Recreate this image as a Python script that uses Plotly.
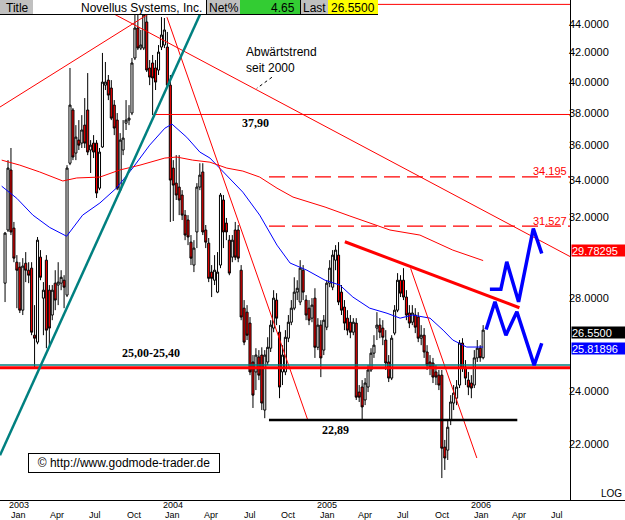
import plotly.graph_objects as go
import pandas as pd
import math

# ---------------- data (weekly candles) ----------------
first_week = "2002-11-29"
opens = [28.69, 31.32, 34.58, 31.42, 29.70, 29.46, 27.44, 29.65, 29.31, 29.41,
         26.33, 26.03, 29.95, 27.99, 29.80, 28.36, 27.22, 28.69, 28.60, 28.69,
         28.83, 28.13, 34.97, 38.18, 35.56, 36.33, 36.15, 37.24, 38.18, 35.74,
         36.15, 36.15, 33.56, 35.92, 39.78, 40.11, 39.59, 38.49, 37.55, 33.45,
         35.74, 37.36, 37.55, 37.99, 41.60, 43.71, 42.29, 42.29, 44.15, 40.92,
         41.26, 40.92, 40.78, 42.36, 42.50, 42.36, 39.78, 34.69, 33.84, 33.62,
         33.18, 32.10, 31.84, 30.70, 29.56, 31.22, 33.62, 34.47, 31.32, 30.65,
         29.22, 28.83, 28.27, 29.56, 32.91, 31.68, 30.80, 29.95, 31.32, 31.32,
         29.31, 27.53, 27.35, 26.86, 25.19, 24.78, 25.40, 25.48, 23.27, 25.19,
         25.77, 26.64, 27.90, 26.46, 24.78, 24.78, 26.20, 26.90, 27.53, 28.27,
         27.81, 29.31, 27.90, 27.53, 27.08, 27.99, 25.81, 26.77, 25.69, 26.68,
         28.69, 28.50, 29.80, 30.05, 28.27, 27.58, 27.08, 26.90, 26.46, 26.86,
         23.97, 24.17, 23.66, 24.17, 24.86, 25.56, 26.64, 26.77, 26.64, 26.12,
         25.19, 24.53, 26.42, 27.44, 28.83, 28.83, 28.04, 27.31, 26.90, 27.22,
         27.13, 26.20, 26.33, 25.61, 25.19, 25.15, 24.78, 24.65, 24.65, 21.89,
         21.78, 22.89, 23.54, 23.73, 24.25, 25.99, 24.98, 24.45, 24.33, 24.25,
         25.36, 25.77, 25.37]
highs = [31.22, 35.15, 35.86, 31.74, 30.05, 29.70, 29.90, 30.20, 29.70, 29.70,
         27.67, 30.96, 30.30, 28.74, 30.05, 28.60, 28.60, 29.31, 29.70, 29.31,
         29.07, 34.86, 40.92, 38.30, 37.24, 37.55, 37.86, 38.94, 40.58, 36.33,
         36.63, 36.33, 35.86, 41.95, 41.33, 40.45, 40.11, 38.81, 37.99, 36.75,
         37.55, 38.81, 38.49, 41.60, 44.66, 44.66, 43.57, 45.03, 44.66, 41.46,
         41.81, 41.46, 42.50, 44.51, 44.44, 43.43, 40.45, 35.15, 35.44, 35.44,
         33.45, 32.37, 32.10, 31.06, 30.80, 33.84, 34.97, 34.97, 31.58, 30.91,
         29.56, 30.05, 30.20, 33.29, 33.18, 31.95, 31.06, 31.06, 31.74, 31.58,
         29.56, 27.90, 27.67, 27.13, 25.48, 25.77, 25.69, 25.81, 25.69, 26.24,
         26.99, 28.36, 28.22, 26.77, 25.90, 26.55, 27.22, 27.90, 28.97, 28.83,
         29.80, 29.56, 28.13, 27.90, 27.99, 28.45, 27.08, 26.99, 27.22, 28.83,
         29.80, 30.30, 30.55, 30.70, 28.60, 27.90, 27.44, 27.22, 27.08, 27.08,
         24.25, 24.45, 24.53, 25.06, 25.77, 26.33, 27.35, 27.08, 26.99, 26.55,
         25.48, 26.33, 27.67, 29.17, 29.07, 29.41, 28.36, 27.67, 27.67, 27.53,
         27.35, 26.77, 26.64, 25.90, 25.48, 25.36, 25.06, 24.86, 24.86, 22.15,
         22.89, 23.85, 24.25, 24.45, 26.12, 26.20, 25.27, 24.78, 24.65, 25.69,
         26.12, 25.90, 26.77]
lows = [27.81, 31.22, 31.06, 29.70, 27.53, 27.31, 27.22, 28.74, 28.69, 26.33,
        24.94, 25.94, 28.83, 26.33, 25.77, 25.90, 26.99, 27.44, 27.67, 28.36,
        27.53, 28.04, 34.86, 35.15, 35.15, 35.74, 35.86, 35.86, 35.44, 34.41,
        35.27, 33.02, 33.45, 35.86, 39.46, 38.81, 37.55, 36.63, 33.45, 33.34,
        35.44, 36.94, 37.24, 37.86, 41.46, 42.15, 42.15, 42.15, 40.65, 39.78,
        37.86, 39.46, 40.45, 42.15, 42.29, 39.59, 31.74, 31.79, 32.91, 32.10,
        31.84, 30.80, 30.55, 29.56, 29.22, 30.40, 33.45, 31.06, 30.40, 28.74,
        28.04, 28.60, 28.22, 29.41, 30.40, 30.80, 29.07, 29.70, 29.80, 29.70,
        26.99, 25.90, 26.12, 24.65, 23.35, 24.05, 24.45, 23.27, 22.96, 25.06,
        25.61, 26.46, 26.77, 23.73, 24.25, 24.65, 26.03, 26.77, 27.44, 27.90,
        27.67, 27.90, 26.99, 26.77, 26.90, 25.36, 25.69, 24.57, 25.48, 26.55,
        28.50, 28.36, 29.31, 27.67, 27.22, 26.55, 26.33, 26.20, 26.33, 23.66,
        23.58, 22.89, 23.46, 23.97, 24.78, 25.36, 26.12, 26.20, 25.90, 24.86,
        24.37, 24.45, 26.33, 27.35, 28.04, 27.90, 26.99, 26.64, 26.77, 26.42,
        26.03, 25.90, 25.36, 24.86, 24.65, 24.33, 24.25, 24.05, 20.80, 21.08,
        21.43, 22.70, 23.27, 23.46, 24.13, 24.78, 24.25, 23.85, 23.73, 24.13,
        25.19, 25.20, 25.30]
closes = [31.16, 34.69, 31.22, 29.90, 29.31, 27.44, 29.51, 29.31, 29.07, 26.46,
          26.20, 30.80, 28.97, 28.36, 26.55, 26.64, 28.36, 27.90, 28.74, 28.97,
          28.50, 34.69, 38.49, 35.33, 36.51, 36.03, 36.94, 36.15, 35.62, 36.03,
          35.62, 33.29, 35.62, 39.98, 39.98, 39.13, 37.67, 37.06, 33.56, 36.33,
          36.45, 37.55, 37.67, 41.26, 43.71, 42.29, 42.50, 44.66, 40.78, 40.31,
          40.25, 39.98, 42.01, 43.21, 43.57, 39.78, 34.01, 33.73, 33.18, 32.91,
          32.10, 31.06, 30.96, 29.90, 30.40, 33.62, 34.29, 31.22, 30.70, 28.92,
          28.92, 29.31, 29.22, 33.18, 31.22, 31.22, 29.17, 30.80, 29.95, 29.90,
          27.13, 26.03, 26.33, 24.78, 23.85, 25.48, 24.65, 23.54, 25.48, 25.81,
          26.77, 27.99, 27.08, 24.17, 25.48, 26.24, 26.90, 27.53, 28.27, 28.45,
          29.41, 28.27, 27.22, 26.99, 27.67, 25.81, 26.77, 25.36, 26.99, 28.69,
          29.41, 30.05, 30.30, 27.81, 27.44, 26.86, 26.55, 26.46, 26.90, 23.77,
          23.77, 23.39, 24.33, 24.86, 25.56, 25.90, 26.77, 26.46, 26.24, 25.15,
          24.53, 26.20, 27.44, 28.83, 28.22, 28.04, 27.22, 26.86, 27.31, 26.68,
          26.20, 26.33, 25.61, 25.06, 24.98, 24.57, 24.57, 24.25, 21.85, 21.50,
          22.62, 23.58, 23.93, 24.17, 25.99, 24.94, 24.53, 24.17, 24.13, 25.36,
          25.77, 25.37, 26.55]

# moving averages
ma_blue_dates = ["2002-11-21", "2002-12-27", "2003-02-03", "2003-03-15", "2003-04-24",
                 "2003-06-01", "2003-07-12", "2003-08-20", "2003-09-28", "2003-11-07",
                 "2003-12-13", "2003-12-30", "2004-02-03", "2004-03-05", "2004-03-29",
                 "2004-05-08", "2004-06-15", "2004-07-25", "2004-09-04", "2004-10-05",
                 "2004-11-14", "2004-12-27", "2005-01-31", "2005-03-03", "2005-04-12",
                 "2005-05-23", "2005-06-23", "2005-07-23", "2005-09-02", "2005-10-03",
                 "2005-10-26", "2005-11-28", "2006-01-06"]
ma_blue = [33.67, 33.0, 32.1, 31.45, 31.0, 32.1, 32.75, 33.56, 34.7, 36.03,
           37.05, 37.3, 36.5, 35.62, 35.27, 34.29, 33.34, 32.1, 30.55, 29.66,
           29.31, 28.83, 28.6, 28.04, 27.53, 27.3, 27.08, 27.22, 27.08, 26.55,
           26.12, 25.82, 25.82]
ma_red_dates = ["2002-11-21", "2003-01-03", "2003-02-19", "2003-04-15", "2003-05-18",
                "2003-07-12", "2003-08-28", "2003-10-15", "2003-12-13", "2004-01-10",
                "2004-02-17", "2004-03-29", "2004-05-08", "2004-06-15", "2004-07-25",
                "2004-09-04", "2004-10-12", "2004-12-27", "2005-02-24", "2005-05-06",
                "2005-05-30", "2005-08-09", "2005-10-26", "2006-01-06"]
ma_red = [35.15, 34.86, 34.47, 33.96, 34.13, 34.18, 34.58, 34.86, 35.27, 35.33,
          35.15, 35.03, 34.69, 34.52, 34.18, 33.56, 33.07, 32.53, 32.05, 31.48,
          31.32, 31.06, 30.3, 29.78]

# drawn lines (date, price)
downtrend_dates, downtrend_prices = ["2003-06-13", "2006-07-31"], [45.78, 29.98]
rising_dates, rising_prices = ["2002-11-17", "2003-12-27"], [38.37, 45.78]
steep1_dates, steep1_prices = ["2003-12-18", "2004-11-16"], [44.5, 22.89]
steep2_dates, steep2_prices = ["2005-07-18", "2005-12-22"], [29.4, 21.5]
resist_dates, resist_prices = ["2005-02-12", "2006-04-02"], [30.72, 27.55]
teal_dates, teal_prices = ["2002-11-17", "2004-03-21"], [21.6, 45.78]
lvl_3790_dates, lvl_3790 = ["2003-11-19", "2006-07-31"], 37.90
lvl_top_dates, lvl_top = ["2003-06-01", "2006-07-31"], 45.45
dash_dates, dash_levels = ["2004-08-16", "2006-07-31"], [34.195, 31.527]
full_dates = ["2002-11-17", "2006-07-31"]
lvl_red25, lvl_teal25 = 24.95, 25.07
lvl_2289_dates, lvl_2289 = ["2004-08-16", "2006-03-28"], 22.89
pointer_dates, pointer_prices = ["2004-08-23", "2004-07-18"], [40.3, 39.57]
zig_up_dates = ["2006-01-22", "2006-02-17", "2006-03-03", "2006-03-31", "2006-05-05", "2006-05-25"]
zig_up = [28.4, 28.4, 29.72, 27.82, 31.4, 30.13]
zig_dn_dates = ["2006-01-13", "2006-02-03", "2006-03-01", "2006-03-27", "2006-05-07", "2006-05-25"]
zig_dn = [26.58, 27.82, 26.33, 27.37, 25.06, 25.98]

tick_dates = ["2003-01-01", "2003-04-01", "2003-07-01", "2003-10-01",
              "2004-01-01", "2004-04-01", "2004-07-01", "2004-10-01",
              "2005-01-01", "2005-04-01", "2005-07-01", "2005-10-01",
              "2006-01-01", "2006-04-01", "2006-07-01"]
tick_years = ["2003", "", "", "", "2004", "", "", "", "2005", "", "", "", "2006", "", ""]
tick_months = ["Jan", "Apr", "Jul", "Oct"] * 3 + ["Jan", "Apr", "Jul"]
price_ticks = [22, 24, 28, 32, 34, 36, 38, 40, 42, 44]
x_range = ["2002-11-17", "2006-07-31"]
y_range = [20.06, 45.78]

# ---------------- figure ----------------
W, H = 625, 520
ML, MR, MT, MB = 0, 55, 0, 20
PW, PH = W - ML - MR, H - MT - MB
SANS = "Liberation Sans, Arial, sans-serif"
SERIF = "Liberation Serif, Times New Roman, serif"
NARROW = "Liberation Sans Narrow, Arial Narrow, Liberation Sans, sans-serif"

dates = pd.date_range(first_week, periods=len(closes), freq="7D")

fig = go.Figure()
fig.add_trace(go.Candlestick(
    x=dates, open=opens, high=highs, low=lows, close=closes,
    increasing=dict(line=dict(color="black", width=1), fillcolor="white"),
    decreasing=dict(line=dict(color="black", width=1), fillcolor="#FF0000"),
    whiskerwidth=0, hoverinfo="skip"))


def line(xs, ys, color, width, dash="solid"):
    fig.add_trace(go.Scatter(x=xs, y=ys, mode="lines",
                             line=dict(color=color, width=width, dash=dash),
                             hoverinfo="skip"))


line(ma_blue_dates, ma_blue, "#0000FF", 1)
line(ma_red_dates, ma_red, "#FF0000", 1)
line(rising_dates, rising_prices, "#FF0000", 1)
line(downtrend_dates, downtrend_prices, "#FF0000", 1)
line(steep1_dates, steep1_prices, "#FF0000", 1)
line(steep2_dates, steep2_prices, "#FF0000", 1)
line(lvl_3790_dates, [lvl_3790] * 2, "#FF0000", 1)
line(lvl_top_dates, [lvl_top] * 2, "#FF0000", 1)
for lv in dash_levels:
    line(dash_dates, [lv] * 2, "#FF0000", 1.2, "16px,7px")
line(full_dates, [lvl_teal25] * 2, "#008080", 1.5)
line(full_dates, [lvl_red25] * 2, "#FF0000", 3)
line(lvl_2289_dates, [lvl_2289] * 2, "black", 2.5)
line(resist_dates, resist_prices, "#FF0000", 3)
line(teal_dates, teal_prices, "#008080", 2.5)
line(pointer_dates, pointer_prices, "black", 1, "3px,3px")
line(zig_up_dates, zig_up, "#0000FF", 3.5)
line(zig_dn_dates, zig_dn, "#0000FF", 3.5)


def px(x, y):
    return x / PW, 1 - y / PH


shapes = []


def rect(x0, y0, x1, y1, fill):
    a, b = px(x0, y0)
    c, d = px(x1, y1)
    shapes.append(dict(type="rect", xref="paper", yref="paper", x0=a, y0=d, x1=c, y1=b,
                       fillcolor=fill, line=dict(width=0), layer="above"))


def seg(x0, y0, x1, y1, color="black", width=1):
    a, b = px(x0, y0)
    c, d = px(x1, y1)
    shapes.append(dict(type="line", xref="paper", yref="paper", x0=a, y0=b, x1=c, y1=d,
                       line=dict(color=color, width=width), layer="above"))


# title bar
rect(0, 0, 33, 14, "#C0C0C0")
rect(33, 0, 206, 14, "white")
rect(207, 0, 240, 14, "#C0C0C0")
rect(240, 0, 300, 14, "#33CC33")
rect(301, 0, 328, 14, "#C0C0C0")
rect(328, 0, 378, 14, "#FFFF00")
seg(206.5, 0, 206.5, 14)
seg(300.5, 0, 300.5, 14)
seg(0, 14.5, 378, 14.5)
# frame
seg(PW + 0.5, 0, PW + 0.5, PH)
seg(0, PH + 0.5, W, PH + 0.5)

annotations = []


def ann(text, x, y, xanchor="center", yanchor="middle", size=12, family=SANS,
        color="black", **kw):
    a, b = px(x, y)
    annotations.append(dict(text=text, x=a, y=b, xref="paper", yref="paper",
                            xanchor=xanchor, yanchor=yanchor, showarrow=False,
                            font=dict(size=size, family=family, color=color), **kw))


ann("Title", 17, 7.5)
ann("Novellus Systems, Inc.", 204, 7.5, xanchor="right")
ann("Net%", 223.5, 7.5)
ann("4.65", 297, 7.5, xanchor="right")
ann("Last", 314.5, 7.5)
ann("26.5500", 353, 7.5)

ann("Abwärtstrend<br>seit 2000", 244, 43, xanchor="left", yanchor="top", align="left")
ann("<b>37,90</b>", 255, 123, family=SERIF)
ann("<b>25,00-25,40</b>", 150.5, 353, family=SERIF)
ann("<b>22,89</b>", 336, 429.5, family=SERIF)
ann("34.195", 569, 171, xanchor="right", size=11, color="#FF0000")
ann("31.527", 569, 221, xanchor="right", size=11, color="#FF0000")
ann("© http://www.godmode-trader.de", 124, 462.5, bgcolor="white", bordercolor="black",
    borderwidth=1, borderpad=2, width=186, height=14)
ann("LOG", 611, 493, size=10, family=NARROW)

for txt, yc, bg in [("29.78295", 250.5, "#FF0000"), ("26.5500", 332, "black"),
                    ("25.81896", 348.5, "#0000FF")]:
    ann(txt, 571, yc, xanchor="left", size=11, color="white", bgcolor=bg,
        width=54, height=11, align="left", borderpad=0)

# date labels (year over month), placed at the axis dates
for d, yr, mo in zip(tick_dates, tick_years, tick_months):
    if yr:
        annotations.append(dict(text=yr, x=d, y=1 - 505 / PH, xref="x", yref="paper",
                                yanchor="middle", xanchor="center", showarrow=False,
                                font=dict(size=9, family=NARROW, color="black")))
    annotations.append(dict(text=mo, x=d, y=1 - 514.5 / PH, xref="x", yref="paper",
                            yanchor="middle", xanchor="center", showarrow=False,
                            font=dict(size=9, family=NARROW, color="black")))

fig.update_layout(
    width=W, height=H, margin=dict(l=ML, r=MR, t=MT, b=MB, pad=0),
    paper_bgcolor="white", plot_bgcolor="white", showlegend=False, hovermode=False,
    shapes=shapes, annotations=annotations, boxgap=0.0,
    xaxis=dict(type="date", range=x_range, rangeslider=dict(visible=False),
               showgrid=False, zeroline=False, showline=False, ticks="",
               showticklabels=False),
    yaxis=dict(type="log", range=[math.log10(y_range[0]), math.log10(y_range[1])],
               side="right", showgrid=False, zeroline=False, showline=False, ticks="",
               tickmode="array", tickvals=price_ticks, ticklabelstandoff=-2,
               ticktext=[f"{v:.4f}" for v in price_ticks],
               tickfont=dict(family=SANS, size=11, color="black")),
)

fig.write_html("out.html", config={"displayModeBar": False},
               post_script="document.body.style.margin='0';")
